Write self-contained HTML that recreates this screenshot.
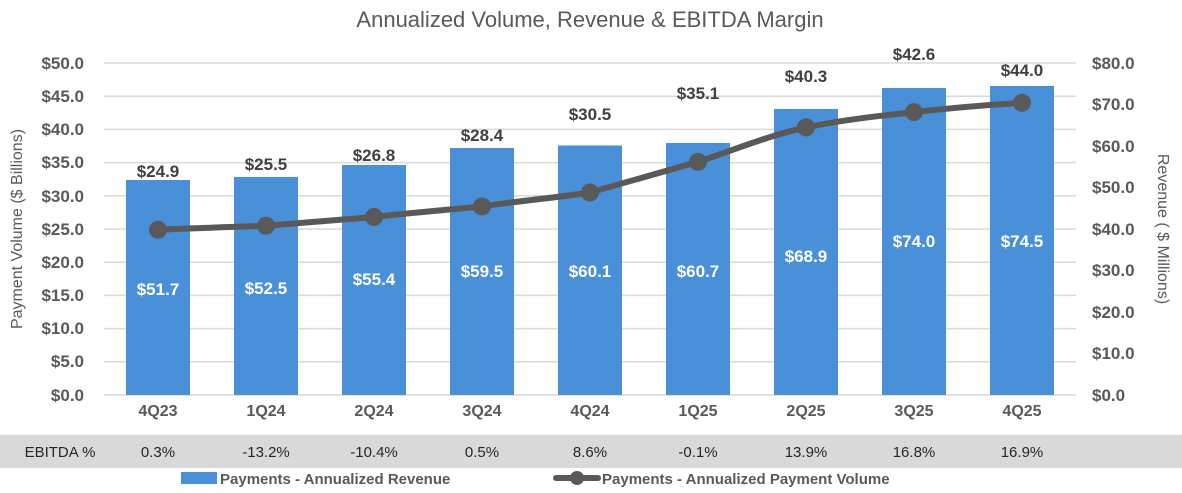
<!DOCTYPE html>
<html><head><meta charset="utf-8"><style>body{margin:0;background:#fff}svg{display:block}text{font-family:"Liberation Sans",Arial,sans-serif}</style></head>
<body>
<svg width="1182" height="493" viewBox="0 0 1182 493" xmlns="http://www.w3.org/2000/svg">
<text x="590" y="27" text-anchor="middle" font-size="22" fill="#595959">Annualized Volume, Revenue &amp; EBITDA Margin</text>
<g stroke="#d9d9d9" stroke-width="1.5">
<line x1="104" x2="1076" y1="63" y2="63"/><line x1="104" x2="1076" y1="96.2" y2="96.2"/><line x1="104" x2="1076" y1="129.4" y2="129.4"/><line x1="104" x2="1076" y1="162.6" y2="162.6"/><line x1="104" x2="1076" y1="195.8" y2="195.8"/><line x1="104" x2="1076" y1="229" y2="229"/><line x1="104" x2="1076" y1="262.2" y2="262.2"/><line x1="104" x2="1076" y1="295.4" y2="295.4"/><line x1="104" x2="1076" y1="328.6" y2="328.6"/><line x1="104" x2="1076" y1="361.8" y2="361.8"/><line x1="104" x2="1076" y1="395" y2="395"/>
</g>
<g font-size="17" font-weight="bold" fill="#595959" text-anchor="end">
<text x="84" y="69">$50.0</text><text x="84" y="102">$45.0</text><text x="84" y="135">$40.0</text><text x="84" y="168">$35.0</text><text x="84" y="202">$30.0</text><text x="84" y="235">$25.0</text><text x="84" y="268">$20.0</text><text x="84" y="301">$15.0</text><text x="84" y="334">$10.0</text><text x="84" y="367">$5.0</text><text x="84" y="401">$0.0</text>
</g>
<g font-size="17" font-weight="bold" fill="#595959" text-anchor="start">
<text x="1092" y="69">$80.0</text><text x="1092" y="110">$70.0</text><text x="1092" y="152">$60.0</text><text x="1092" y="193">$50.0</text><text x="1092" y="235">$40.0</text><text x="1092" y="276">$30.0</text><text x="1092" y="318">$20.0</text><text x="1092" y="359">$10.0</text><text x="1092" y="401">$0.0</text>
</g>
<text transform="translate(22,229) rotate(-90)" text-anchor="middle" font-size="16" fill="#595959">Payment Volume ($ Billions)</text>
<text transform="translate(1158,229) rotate(90)" text-anchor="middle" font-size="16" fill="#595959">Revenue ( $ Millions)</text>
<g fill="#4a90d9">
<rect x="126" y="180" width="64" height="215"/><rect x="234" y="177" width="64" height="218"/><rect x="342" y="165" width="64" height="230"/><rect x="450" y="148" width="64" height="247"/><rect x="558" y="145.5" width="64" height="249.5"/><rect x="666" y="143" width="64" height="252"/><rect x="774" y="109" width="64" height="286"/><rect x="882" y="88" width="64" height="307"/><rect x="990" y="86" width="64" height="309"/>
</g>
<path d="M158,229.7 C194,228 230,227 266,225.7 C302,223 338,220 374,217 C410,213 446,210 482,206.4 C518,201 554,198 590,192.5 C626,182 662,172 698,161.9 C734,150 770,135 806,127.4 C842,120 878,116 914,112.1 C950,108 986,105 1022,102.8" fill="none" stroke="#595959" stroke-width="6" stroke-linecap="round"/>
<g fill="#595959">
<circle cx="158" cy="229.7" r="9"/><circle cx="266" cy="225.7" r="9"/><circle cx="374" cy="217" r="9"/><circle cx="482" cy="206.4" r="9"/><circle cx="590" cy="192.5" r="9"/><circle cx="698" cy="161.9" r="9"/><circle cx="806" cy="127.4" r="9"/><circle cx="914" cy="112.1" r="9"/><circle cx="1022" cy="102.8" r="9"/>
</g>
<g font-size="17" font-weight="bold" fill="#404040" text-anchor="middle">
<text x="158" y="177">$24.9</text><text x="266" y="170">$25.5</text><text x="374" y="161">$26.8</text><text x="482" y="141">$28.4</text><text x="590" y="120">$30.5</text><text x="698" y="99">$35.1</text><text x="806" y="82">$40.3</text><text x="914" y="60">$42.6</text><text x="1022" y="76">$44.0</text>
</g>
<g font-size="17" font-weight="bold" fill="#fff" text-anchor="middle">
<text x="158" y="295">$51.7</text><text x="266" y="294">$52.5</text><text x="374" y="285">$55.4</text><text x="482" y="277">$59.5</text><text x="590" y="277">$60.1</text><text x="698" y="277">$60.7</text><text x="806" y="262">$68.9</text><text x="914" y="247">$74.0</text><text x="1022" y="247">$74.5</text>
</g>
<g font-size="16" font-weight="bold" fill="#595959" text-anchor="middle">
<text x="158" y="416">4Q23</text><text x="266" y="416">1Q24</text><text x="374" y="416">2Q24</text><text x="482" y="416">3Q24</text><text x="590" y="416">4Q24</text><text x="698" y="416">1Q25</text><text x="806" y="416">2Q25</text><text x="914" y="416">3Q25</text><text x="1022" y="416">4Q25</text>
</g>
<rect x="0" y="435" width="1182" height="33" fill="#d9d9d9"/>
<g font-size="15" fill="#262626" text-anchor="middle">
<text x="60" y="457">EBITDA %</text>
<text x="158" y="457">0.3%</text><text x="266" y="457">-13.2%</text><text x="374" y="457">-10.4%</text><text x="482" y="457">0.5%</text><text x="590" y="457">8.6%</text><text x="698" y="457">-0.1%</text><text x="806" y="457">13.9%</text><text x="914" y="457">16.8%</text><text x="1022" y="457">16.9%</text>
</g>
<rect x="181" y="472" width="36" height="12" fill="#4a90d9"/>
<text x="220" y="484" font-size="15" font-weight="bold" fill="#595959">Payments - Annualized Revenue</text>
<line x1="556" x2="598" y1="478" y2="478" stroke="#595959" stroke-width="6" stroke-linecap="round"/>
<circle cx="577" cy="478" r="7" fill="#595959"/>
<text x="602" y="484" font-size="15" font-weight="bold" fill="#595959">Payments - Annualized Payment Volume</text>
</svg>
</body></html>
